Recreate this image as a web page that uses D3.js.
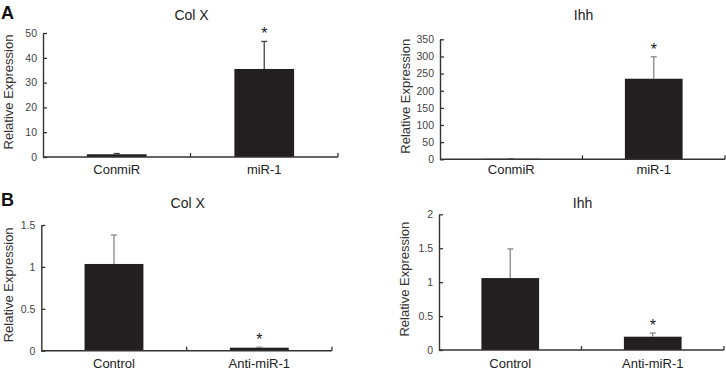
<!DOCTYPE html>
<html><head><meta charset="utf-8">
<script src="https://cdn.jsdelivr.net/npm/d3@7"></script>
<style>body{margin:0;background:#fff;} svg{display:block;font-family:"Liberation Sans",Arial,sans-serif;}</style>
</head><body>
<svg id="c" width="726" height="371"></svg>
<script>
// ---- data ----
const catsA = ["ConmiR", "miR-1"];
const catsB = ["Control", "Anti-miR-1"];
const colXA = [1.1, 35.5];
const colXAErr = [0.3, 11.1];
const ihhA = [1.5, 235];
const ihhAErr = [0.5, 64];
const colXB = [1.035, 0.036];
const colXBErr = [0.345, 0.006];
const ihhB = [1.06, 0.196];
const ihhBErr = [0.43, 0.054];
const ticksColXA = [0, 10, 20, 30, 40, 50];
const ticksIhhA = [0, 50, 100, 150, 200, 250, 300, 350];
const ticksColXB = [0, 0.5, 1, 1.5];
const ticksIhhB = [0, 0.5, 1, 1.5, 2];
const signif = [false, true]; // star on second bar

// ---- layout ----
const panels = [
  {title:"Col X", cats:catsA, vals:colXA, errs:colXAErr, ticks:ticksColXA, x0:43, x1:338, yb:157, yt:33, labX:8, errCol:"#444"},
  {title:"Ihh", cats:catsA, vals:ihhA, errs:ihhAErr, ticks:ticksIhhA, x0:440, x1:725, yb:159.3, yt:39.3, labX:405, errCol:"#888"},
  {title:"Col X", cats:catsB, vals:colXB, errs:colXBErr, ticks:ticksColXB, x0:41.3, x1:332, yb:350.7, yt:225, labX:8, errCol:"#888"},
  {title:"Ihh", cats:catsB, vals:ihhB, errs:ihhBErr, ticks:ticksIhhB, x0:439, x1:724, yb:350, yt:214.3, labX:404.5, errCol:"#888"}
];
const titleY = [20, 20, 208, 208];
const catY = [174, 174, 368, 368];
const letterPos = [[1, 19], [1, 206]];

const svg = d3.select("#c");

panels.forEach((p, i) => {
  const g = svg.append("g");
  const x = d3.scaleBand().domain(p.cats).range([p.x0, p.x1]).padding(0);
  const y = d3.scaleLinear().domain([0, d3.max(p.ticks)]).range([p.yb, p.yt]);
  const bw = x.bandwidth() * 0.405;

  // bars
  g.selectAll("rect.bar").data(p.vals).join("rect")
    .attr("x", (d, j) => x(p.cats[j]) + x.bandwidth()/2 - bw/2)
    .attr("y", d => y(d))
    .attr("width", bw)
    .attr("height", d => p.yb - y(d))
    .attr("fill", "#231f20");

  // error bars
  p.vals.forEach((v, j) => {
    const cx = x(p.cats[j]) + x.bandwidth()/2;
    const top = y(v + p.errs[j]);
    g.append("line").attr("x1", cx).attr("x2", cx).attr("y1", y(v)).attr("y2", top)
      .attr("stroke", p.errCol).attr("stroke-width", 1.3);
    g.append("line").attr("x1", cx - 3).attr("x2", cx + 3).attr("y1", top).attr("y2", top)
      .attr("stroke", p.errCol).attr("stroke-width", 1.3);
    if (signif[j]) {
      g.append("text").attr("x", cx).attr("y", top - 2)
        .attr("text-anchor", "middle").attr("font-size", 16).attr("fill", "#222").text("*");
    }
  });

  // y axis
  const ya = g.append("g").attr("transform", `translate(${p.x0},0)`)
    .call(d3.axisLeft(y).tickValues(p.ticks).tickFormat(d => String(d))
      .tickSizeInner(-4).tickSizeOuter(0).tickPadding(6));
  ya.select(".domain").attr("stroke", "#333").attr("stroke-width", 1.4);
  ya.selectAll(".tick line").attr("stroke", "#333").attr("stroke-width", 1.3);
  ya.selectAll(".tick text").attr("font-size", 10.5).attr("fill", "#444")
    .attr("font-family", "Liberation Sans, Arial, sans-serif");

  // x axis
  g.append("line").attr("x1", p.x0).attr("x2", p.x1).attr("y1", p.yb).attr("y2", p.yb)
    .attr("stroke", "#333").attr("stroke-width", 1.4);
  const bounds = p.cats.slice(1).map(c => x(c)).concat([p.x1]);
  g.selectAll("line.xt").data(bounds).join("line")
    .attr("x1", d => d).attr("x2", d => d).attr("y1", p.yb).attr("y2", p.yb - 4)
    .attr("stroke", "#333").attr("stroke-width", 1.3);
  g.selectAll("text.cat").data(p.cats).join("text")
    .attr("x", d => x(d) + x.bandwidth()/2).attr("y", catY[i])
    .attr("text-anchor", "middle").attr("font-size", 13).attr("fill", "#222").text(d => d);

  // y label
  const cy = (p.yb + p.yt) / 2 - 3;
  g.append("text").attr("transform", `translate(${p.labX},${cy}) rotate(-90)`)
    .attr("dy", "0.35em").attr("text-anchor", "middle").attr("font-size", 13).attr("fill", "#333")
    .text("Relative Expression");

  // title
  g.append("text").attr("x", (p.x0 + p.x1) / 2 + 1).attr("y", titleY[i])
    .attr("text-anchor", "middle").attr("font-size", 14).attr("fill", "#222").text(p.title);
});

svg.selectAll("text.letter").data(["A", "B"]).join("text")
  .attr("x", (d, k) => letterPos[k][0]).attr("y", (d, k) => letterPos[k][1])
  .attr("font-size", 18).attr("font-weight", "bold").attr("fill", "#111").text(d => d);
</script>
</body></html>
